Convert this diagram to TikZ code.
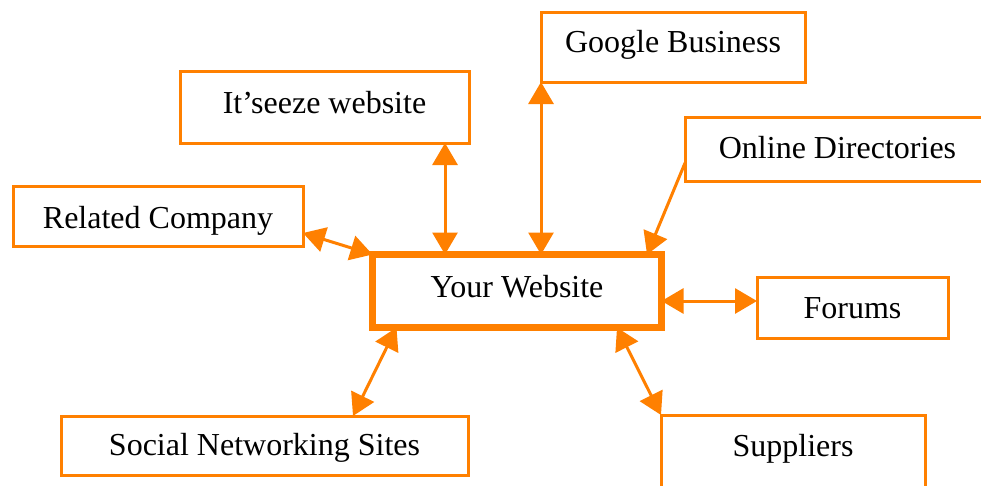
\documentclass[tikz,border=0pt]{standalone}
\usepackage{fontspec}
\setmainfont{Liberation Serif}
\usetikzlibrary{arrows.meta,calc}
\definecolor{orng}{RGB}{255,128,0}
\begin{document}
\begin{tikzpicture}[x=1pt,y=-1pt,
  box/.style={draw=orng, line width=3pt, rectangle, inner sep=0pt, outer sep=0pt,
    font=\fontsize{32}{38}\selectfont, text depth=8pt, fill=white},
  bigbox/.style={box, line width=7pt},
  link/.style={draw=orng, line width=3pt},
  tip/.style={Triangle[length=22pt,width=25pt]},
  both/.style={link, {Triangle[length=22pt,width=25pt]}-{Triangle[length=22pt,width=25pt]}},
  one/.style={link, -{Triangle[length=22pt,width=25pt]}}]
\useasboundingbox (0,0) rectangle (981,485);
\fill[white] (0,0) rectangle (981,485);
\clip (0,0) rectangle (981,485);
\node[bigbox, minimum width=289pt, minimum height=73pt, text height=20pt] (you) at (517,291) {Your Website};
\node[box, minimum width=289pt, minimum height=72pt, text height=20pt] (ites) at (324.5,107) {It’seeze website};
\node[box, minimum width=290pt, minimum height=60pt, text height=32pt] (rel) at (158,216) {Related Company};
\node[box, minimum width=264pt, minimum height=70pt, text height=18pt] (goog) at (673,47) {Google Business};
\node[box, minimum width=305pt, minimum height=64pt, text height=26pt] (odir) at (837.5,149) {Online Directories};
\node[box, minimum width=191pt, minimum height=61pt, text height=29pt] (for) at (852.5,307.5) {Forums};
\node[box, minimum width=407pt, minimum height=59pt, text height=27pt] (soc) at (264.5,445.5) {Social Networking Sites};
\node[box, minimum width=264pt, minimum height=90pt, text height=10pt, text depth=18pt] (sup) at (793,460) {Suppliers};
% connectors
\coordinate (a1) at ($(ites.south east)+(-24,0)$);
\draw[both] (a1) -- (you.north -| a1);
\draw[both] (goog.south west) -- (you.north -| goog.south west);
\draw[one] ($(odir.south west)+(0,-18)$) -- ($(you.north east)+(-14.5,0)$);
\draw[both] ($(rel.south east)+(0,-13)$) -- (you.north west);
\coordinate (a5) at ($(for.west)+(0,-6.5)$);
\draw[both] (you.east |- a5) -- (a5);
\draw[both] ($(you.south west)+(24,0)$) -- ($(soc.north east)+(-115,0)$);
\draw[both] ($(you.south east)+(-44.5,0)$) -- (sup.north west);
\end{tikzpicture}
\end{document}
